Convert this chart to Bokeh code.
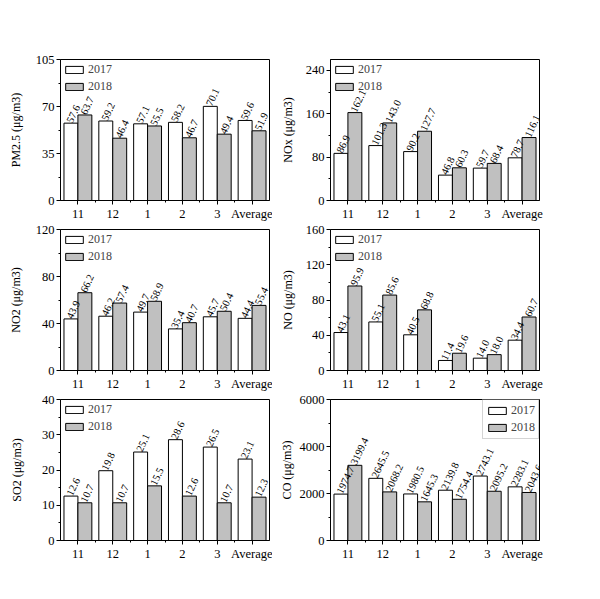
import math
from bokeh.plotting import figure
from bokeh.layouts import column, row
from bokeh.models import (FixedTicker, ColumnDataSource, Range1d, Legend,
                          LegendItem, Spacer, LabelSet)
from bokeh.embed import file_html
from bokeh.resources import INLINE

months = ["11", "12", "1", "2", "3", "Average"]
years = ["2017", "2018"]

pm25_2017 = [57.6, 59.2, 57.1, 58.2, 70.1, 59.6]
pm25_2018 = [63.7, 46.4, 55.5, 46.7, 49.4, 51.9]
nox_2017 = [86.9, 101.3, 90.2, 46.8, 59.7, 78.7]
nox_2018 = [162.1, 143.0, 127.7, 60.3, 68.4, 116.1]
no2_2017 = [43.9, 46.2, 49.7, 35.4, 45.7, 44.4]
no2_2018 = [66.2, 57.4, 58.9, 40.7, 50.4, 55.4]
no_2017 = [43.1, 55.1, 40.5, 11.4, 14.0, 34.4]
no_2018 = [95.9, 85.6, 68.8, 19.6, 18.0, 60.7]
so2_2017 = [12.6, 19.8, 25.1, 28.6, 26.5, 23.1]
so2_2018 = [10.7, 10.7, 15.5, 12.6, 10.7, 12.3]
co_2017 = [1974.7, 2645.5, 1980.5, 2139.8, 2743.1, 2283.1]
co_2018 = [3199.4, 2068.2, 1645.3, 1754.4, 2095.2, 2043.6]

pm25_ticks = [0, 35, 70, 105]
nox_ticks = [0, 80, 160, 240]
no2_ticks = [0, 40, 80, 120]
no_ticks = [0, 40, 80, 120, 160]
so2_ticks = [0, 10, 20, 30, 40]
co_ticks = [0, 2000, 4000, 6000]

FONT = "Liberation Serif"
GRAY = "#c0c0c0"


def panel(ylabel, v17, v18, ymax, yticks, legend_loc, standoff, left, right):
    p = figure(frame_width=209, frame_height=141, output_backend="svg",
               toolbar_location=None,
               x_range=Range1d(0.5, 6.5), y_range=Range1d(0, ymax),
               min_border_left=left, min_border_right=right, min_border_top=5,
               min_border_bottom=24)
    p.background_fill_color = "white"
    p.border_fill_color = "white"
    p.outline_line_color = "black"
    p.outline_line_width = 1
    p.xgrid.visible = False
    p.ygrid.visible = False

    n = len(months)
    x17 = [i + 1 - 0.2 for i in range(n)]
    x18 = [i + 1 + 0.2 for i in range(n)]
    s17 = ColumnDataSource(dict(x=x17, top=v17, lab=["%.1f" % v for v in v17]))
    s18 = ColumnDataSource(dict(x=x18, top=v18, lab=["%.1f" % v for v in v18]))
    r17 = p.vbar(x="x", top="top", width=0.4, source=s17, fill_color="white",
                 line_color="black", line_width=1)
    r18 = p.vbar(x="x", top="top", width=0.4, source=s18, fill_color=GRAY,
                 line_color="black", line_width=1)
    for s in (s17, s18):
        p.add_layout(LabelSet(x="x", y="top", text="lab", source=s,
                              angle=math.radians(65), text_align="left",
                              text_baseline="middle", x_offset=-1.5, y_offset=1,
                              text_font=FONT, text_font_size="10.5px",
                              text_color="black"))

    minor_y = [(yticks[i] + yticks[i + 1]) / 2 for i in range(len(yticks) - 1)]
    p.yaxis.ticker = FixedTicker(ticks=yticks, minor_ticks=minor_y)
    p.xaxis.ticker = FixedTicker(ticks=list(range(1, n + 1)),
                                 minor_ticks=[i + 1.5 for i in range(n - 1)])
    p.xaxis.major_label_overrides = {i + 1: m for i, m in enumerate(months)}
    for ax in (p.xaxis[0], p.yaxis[0]):
        ax.axis_line_color = "black"
        ax.major_tick_line_color = "black"
        ax.minor_tick_line_color = "black"
        ax.major_tick_out = 4
        ax.major_tick_in = 0
        ax.minor_tick_out = 2
        ax.minor_tick_in = 0
        ax.major_label_text_font = FONT
        ax.major_label_text_font_size = "12.5px"
        ax.major_label_text_color = "black"
        ax.major_label_standoff = 2
    p.yaxis.axis_label = ylabel
    p.yaxis.axis_label_text_font = FONT
    p.yaxis.axis_label_text_font_size = "12px"
    p.yaxis.axis_label_text_font_style = "normal"
    p.yaxis.axis_label_text_color = "black"
    p.yaxis.axis_label_standoff = standoff

    legend = Legend(items=[LegendItem(label=years[0], renderers=[r17]),
                           LegendItem(label=years[1], renderers=[r18])],
                    location=legend_loc)
    legend.label_text_font = FONT
    legend.label_text_font_size = "12px"
    legend.glyph_width = 22
    legend.glyph_height = 9
    legend.label_height = 11
    legend.label_standoff = 3
    legend.spacing = 2
    legend.padding = 1
    legend.margin = 2
    legend.background_fill_alpha = 0
    if legend_loc == "top_right":
        legend.border_line_color = "#aaaaaa"
        legend.padding = 3
        legend.margin = 0
    else:
        legend.border_line_alpha = 0
    p.add_layout(legend)
    return p


L1, R1, L2, R2 = 60, 3, 58, 12
p1 = panel("PM2.5 (μg/m3)", pm25_2017, pm25_2018, 105, pm25_ticks, "top_left", 10, L1, R1)
p2 = panel("NOx (μg/m3)", nox_2017, nox_2018, 260, nox_ticks, "top_left", 8, L2, R2)
p3 = panel("NO2 (μg/m3)", no2_2017, no2_2018, 120, no2_ticks, "top_left", 10, L1, R1)
p4 = panel("NO (μg/m3)", no_2017, no_2018, 160, no_ticks, "top_left", 8, L2, R2)
p5 = panel("SO2 (μg/m3)", so2_2017, so2_2018, 40, so2_ticks, "top_left", 15, L1, R1)
p6 = panel("CO (μg/m3)", co_2017, co_2018, 6000, co_ticks, "top_right", 3, L2, R2)

layout = column(Spacer(width=540, height=54), row(p1, p2), row(p3, p4), row(p5, p6),
                spacing=0)
layout.background = "white"

open("out.html", "w").write(file_html(layout, INLINE))
